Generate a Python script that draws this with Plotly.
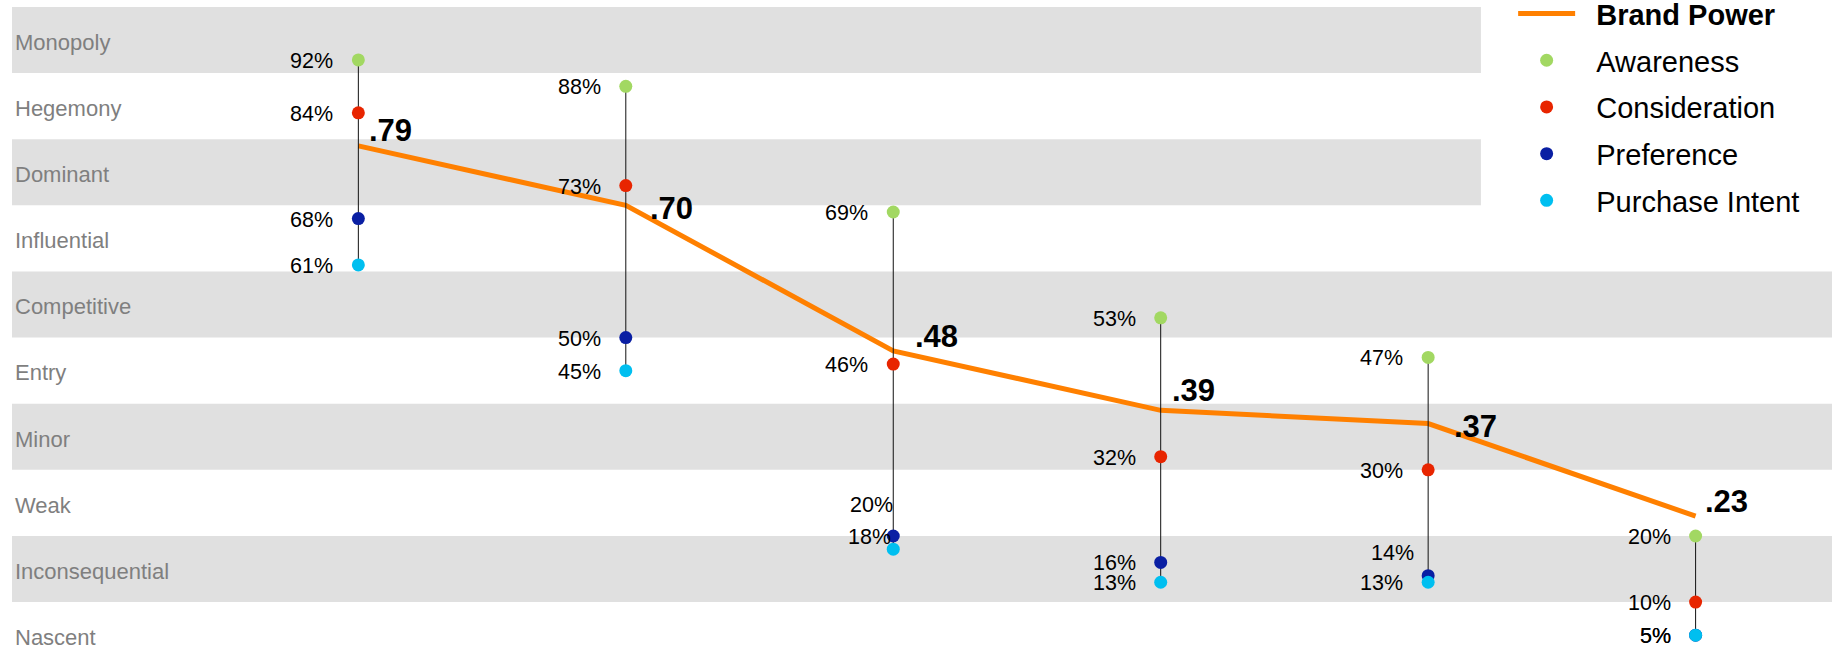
import plotly.graph_objects as go

# ---------------- data ----------------
tiers = ["Monopoly", "Hegemony", "Dominant", "Influential", "Competitive",
         "Entry", "Minor", "Weak", "Inconsequential", "Nascent"]
tier_span = 10  # each tier covers 10 percentage points (top tier = 90-100)

columns = [0, 1, 2, 3, 4, 5]
brand_power = [0.79, 0.70, 0.48, 0.39, 0.37, 0.23]
awareness = [92, 88, 69, 53, 47, 20]
consideration = [84, 73, 46, 32, 30, 10]
preference = [68, 50, 20, 16, 14, 5]
purchase_intent = [61, 45, 18, 13, 13, 5]

series = [
    ("Awareness", awareness, "#A2D862"),
    ("Consideration", consideration, "#E82500"),
    ("Preference", preference, "#0A1FA3"),
    ("Purchase Intent", purchase_intent, "#00BFF0"),
]

# ---------------- label placement tweaks (pixels) ----------------
FONT = "Liberation Sans, Arial, sans-serif"
LEGEND_PAD = "\u00a0\u00a0"  # gap between legend symbol and text
pct_default_shift = (-23, -1)
pct_shift_override = {
    ("Preference", 2): (2, 31),
    ("Purchase Intent", 2): (0, 12),
    ("Preference", 4): (-12, 23),
}
bp_shift = [(9, 15), (22, -3), (20, 14), (9, 20), (24, -3), (7, 15)]

fig = go.Figure()

# Brand power line
fig.add_trace(go.Scatter(
    x=columns, y=[v * 100 for v in brand_power], mode="lines",
    line=dict(color="#FF8000", width=5),
    name=LEGEND_PAD + "<b>Brand Power</b>", legendgroup="bp", hoverinfo="skip",
))

# vertical connectors
cx, cy = [], []
for i, c in enumerate(columns):
    vals = [s[1][i] for s in series]
    cx += [c, c, None]
    cy += [max(vals), min(vals), None]
fig.add_trace(go.Scatter(x=cx, y=cy, mode="lines", line=dict(color="#111111", width=1),
                         showlegend=False, hoverinfo="skip"))

# markers
for name, vals, color in series:
    fig.add_trace(go.Scatter(
        x=columns, y=vals, mode="markers", name=LEGEND_PAD + name, legendgroup=name,
        marker=dict(color=color, size=13, line=dict(width=0)), hoverinfo="skip",
    ))

annotations = []
for name, vals, color in series:
    for i, (c, v) in enumerate(zip(columns, vals)):
        dx, dy = pct_shift_override.get((name, i), pct_default_shift)
        annotations.append(dict(
            x=c, y=v, xref="x", yref="y", text=f"{v}%", showarrow=False,
            xanchor="right", yanchor="middle", xshift=dx, yshift=dy,
            font=dict(family=FONT, size=21.5, color="#000000"),
        ))
for (c, v), (dx, dy) in zip(zip(columns, brand_power), bp_shift):
    annotations.append(dict(
        x=c, y=v * 100, xref="x", yref="y", text="<b>" + f"{v:.2f}".lstrip("0") + "</b>",
        showarrow=False, xanchor="left", yanchor="middle", xshift=dx, yshift=dy,
        font=dict(family=FONT, size=31, color="#000000"),
    ))

# tier bands
shapes = []
for k, t in enumerate(tiers):
    if k % 2 == 0:
        top = 100 - k * tier_span
        shapes.append(dict(type="rect", xref="paper", yref="y", x0=0, x1=1,
                           y0=top - tier_span, y1=top, fillcolor="#E0E0E0",
                           line=dict(width=0), layer="below"))
# white area behind legend
shapes.append(dict(type="rect", xref="paper", yref="paper", x0=0.8071, x1=1.02,
                   y0=0.64, y1=1.05, fillcolor="#FFFFFF", line=dict(width=0), layer="below"))

tick_vals = [100 - k * tier_span - tier_span / 2 for k in range(len(tiers))]

fig.update_layout(
    width=1840, height=655,
    margin=dict(l=12, r=8, t=7, b=0, autoexpand=False),
    paper_bgcolor="white", plot_bgcolor="white",
    xaxis=dict(visible=False, range=[-1.295, 5.51], fixedrange=True),
    yaxis=dict(range=[2.0, 100], showgrid=False, zeroline=False, showline=False,
               tickvals=tick_vals, ticktext=tiers, ticks="",
               ticklabelposition="inside", ticklabelshift=2,
               tickfont=dict(family=FONT, size=22, color="#7F7F7F"), fixedrange=True),
    showlegend=True,
    legend=dict(x=0.8248, y=1.029, xanchor="left", yanchor="top",
                bgcolor="rgba(0,0,0,0)", borderwidth=0, itemwidth=57,
                tracegroupgap=6,
                font=dict(family=FONT, size=29, color="#000000")),
    annotations=annotations,
    shapes=shapes,
    hovermode=False,
)

fig.write_html("out.html")
